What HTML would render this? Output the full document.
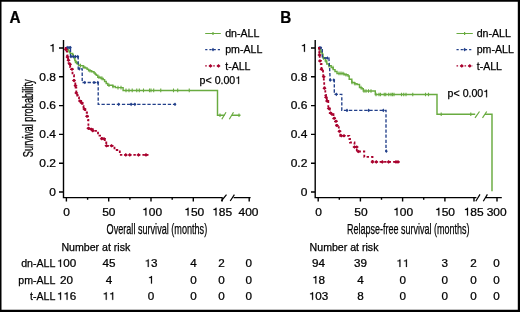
<!DOCTYPE html>
<html><head><meta charset="utf-8"><style>
html,body{margin:0;padding:0;background:#fff;}
body{width:520px;height:312px;overflow:hidden;}
svg{display:block;will-change:transform;font-family:"Liberation Sans", sans-serif;fill:#000;}
text{stroke:#000;stroke-width:0.25px;}
</style></head><body>
<svg width="520" height="312" viewBox="0 0 520 312">
<path d="M0 0 H520 V312 H0 Z M1.5 1.7 V309.8 H517.8 V1.7 Z" fill="#000" fill-rule="evenodd"/>
<text transform="translate(9.6 22.8) scale(0.98 1)" font-size="15.6" stroke-width="0.4" font-weight="bold">A</text>
<text transform="translate(280.2 22.8) scale(0.98 1)" font-size="15.6" stroke-width="0.4" font-weight="bold">B</text>
<path d="M63.5 40 V197.6 H222.6 M233.6 197.6 H250.6 M59 48.00 H63.5 M59 76.80 H63.5 M59 105.60 H63.5 M59 134.40 H63.5 M59 163.20 H63.5 M59 192.00 H63.5 M66.40 197.6 V201.6 M108.70 197.6 V201.6 M151.00 197.6 V201.6 M193.30 197.6 V201.6 M222.20 197.6 V201.6 M249.20 197.6 V201.6 M87.60 197.6 V199.8 M129.90 197.6 V199.8 M172.20 197.6 V199.8" stroke="#000" stroke-width="1.4" fill="none"/>
<path d="M221.3 201 L226.5 194.6 M230.2 201 L234.4 194.6" stroke="#000" stroke-width="1.2" fill="none"/>
<path d="M315.2 40 V197.6 H476.4 M485.8 197.6 H501.8 M311 48.00 H315.2 M311 76.80 H315.2 M311 105.60 H315.2 M311 134.40 H315.2 M311 163.20 H315.2 M311 192.00 H315.2 M318.20 197.6 V201.6 M360.40 197.6 V201.6 M402.60 197.6 V201.6 M444.90 197.6 V201.6 M474.00 197.6 V201.6 M497.00 197.6 V201.6 M339.30 197.6 V199.8 M381.50 197.6 V199.8 M423.70 197.6 V199.8" stroke="#000" stroke-width="1.4" fill="none"/>
<path d="M475.8 201.3 L480 194.4 M483.3 201.3 L487.4 194.4" stroke="#000" stroke-width="1.2" fill="none"/>
<g font-size="10.9"><path transform="translate(49.23 51.80) scale(11.990 -10.900)" d="M0.278 0 H0.358 V0.709 H0.296 Q0.270 0.600 0.105 0.585 V0.525 H0.278 Z" stroke="#000" stroke-width="0.25" vector-effect="non-scaling-stroke"/><path transform="translate(300.63 51.80) scale(11.990 -10.900)" d="M0.278 0 H0.358 V0.709 H0.296 Q0.270 0.600 0.105 0.585 V0.525 H0.278 Z" stroke="#000" stroke-width="0.25" vector-effect="non-scaling-stroke"/><text transform="translate(39.23 80.60) scale(1.100 1)" font-size="10.90">0</text><text transform="translate(45.90 80.60) scale(1.100 1)" font-size="10.90">.</text><text transform="translate(49.23 80.60) scale(1.100 1)" font-size="10.90">8</text><text transform="translate(290.63 80.60) scale(1.100 1)" font-size="10.90">0</text><text transform="translate(297.30 80.60) scale(1.100 1)" font-size="10.90">.</text><text transform="translate(300.63 80.60) scale(1.100 1)" font-size="10.90">8</text><text transform="translate(39.23 109.40) scale(1.100 1)" font-size="10.90">0</text><text transform="translate(45.90 109.40) scale(1.100 1)" font-size="10.90">.</text><text transform="translate(49.23 109.40) scale(1.100 1)" font-size="10.90">6</text><text transform="translate(290.63 109.40) scale(1.100 1)" font-size="10.90">0</text><text transform="translate(297.30 109.40) scale(1.100 1)" font-size="10.90">.</text><text transform="translate(300.63 109.40) scale(1.100 1)" font-size="10.90">6</text><text transform="translate(39.23 138.20) scale(1.100 1)" font-size="10.90">0</text><text transform="translate(45.90 138.20) scale(1.100 1)" font-size="10.90">.</text><text transform="translate(49.23 138.20) scale(1.100 1)" font-size="10.90">4</text><text transform="translate(290.63 138.20) scale(1.100 1)" font-size="10.90">0</text><text transform="translate(297.30 138.20) scale(1.100 1)" font-size="10.90">.</text><text transform="translate(300.63 138.20) scale(1.100 1)" font-size="10.90">4</text><text transform="translate(39.23 167.00) scale(1.100 1)" font-size="10.90">0</text><text transform="translate(45.90 167.00) scale(1.100 1)" font-size="10.90">.</text><text transform="translate(49.23 167.00) scale(1.100 1)" font-size="10.90">2</text><text transform="translate(290.63 167.00) scale(1.100 1)" font-size="10.90">0</text><text transform="translate(297.30 167.00) scale(1.100 1)" font-size="10.90">.</text><text transform="translate(300.63 167.00) scale(1.100 1)" font-size="10.90">2</text><text transform="translate(49.23 195.80) scale(1.100 1)" font-size="10.90">0</text><text transform="translate(300.63 195.80) scale(1.100 1)" font-size="10.90">0</text><text transform="translate(63.32 215.60) scale(1.100 1)" font-size="10.90">0</text><text transform="translate(102.13 215.60) scale(1.100 1)" font-size="10.90">5</text><text transform="translate(108.80 215.60) scale(1.100 1)" font-size="10.90">0</text><path transform="translate(142.10 215.60) scale(11.990 -10.900)" d="M0.278 0 H0.358 V0.709 H0.296 Q0.270 0.600 0.105 0.585 V0.525 H0.278 Z" stroke="#000" stroke-width="0.25" vector-effect="non-scaling-stroke"/><text transform="translate(148.77 215.60) scale(1.100 1)" font-size="10.90">0</text><text transform="translate(155.43 215.60) scale(1.100 1)" font-size="10.90">0</text><path transform="translate(184.25 215.60) scale(11.990 -10.900)" d="M0.278 0 H0.358 V0.709 H0.296 Q0.270 0.600 0.105 0.585 V0.525 H0.278 Z" stroke="#000" stroke-width="0.25" vector-effect="non-scaling-stroke"/><text transform="translate(190.92 215.60) scale(1.100 1)" font-size="10.90">5</text><text transform="translate(197.58 215.60) scale(1.100 1)" font-size="10.90">0</text><path transform="translate(212.20 215.60) scale(11.990 -10.900)" d="M0.278 0 H0.358 V0.709 H0.296 Q0.270 0.600 0.105 0.585 V0.525 H0.278 Z" stroke="#000" stroke-width="0.25" vector-effect="non-scaling-stroke"/><text transform="translate(218.87 215.60) scale(1.100 1)" font-size="10.90">8</text><text transform="translate(225.53 215.60) scale(1.100 1)" font-size="10.90">5</text><text transform="translate(238.50 215.60) scale(1.100 1)" font-size="10.90">4</text><text transform="translate(245.17 215.60) scale(1.100 1)" font-size="10.90">0</text><text transform="translate(251.83 215.60) scale(1.100 1)" font-size="10.90">0</text><text transform="translate(315.17 215.60) scale(1.100 1)" font-size="10.90">0</text><text transform="translate(354.33 215.60) scale(1.100 1)" font-size="10.90">5</text><text transform="translate(361.00 215.60) scale(1.100 1)" font-size="10.90">0</text><path transform="translate(393.20 215.60) scale(11.990 -10.900)" d="M0.278 0 H0.358 V0.709 H0.296 Q0.270 0.600 0.105 0.585 V0.525 H0.278 Z" stroke="#000" stroke-width="0.25" vector-effect="non-scaling-stroke"/><text transform="translate(399.87 215.60) scale(1.100 1)" font-size="10.90">0</text><text transform="translate(406.53 215.60) scale(1.100 1)" font-size="10.90">0</text><path transform="translate(435.00 215.60) scale(11.990 -10.900)" d="M0.278 0 H0.358 V0.709 H0.296 Q0.270 0.600 0.105 0.585 V0.525 H0.278 Z" stroke="#000" stroke-width="0.25" vector-effect="non-scaling-stroke"/><text transform="translate(441.67 215.60) scale(1.100 1)" font-size="10.90">5</text><text transform="translate(448.33 215.60) scale(1.100 1)" font-size="10.90">0</text><path transform="translate(463.70 215.60) scale(11.990 -10.900)" d="M0.278 0 H0.358 V0.709 H0.296 Q0.270 0.600 0.105 0.585 V0.525 H0.278 Z" stroke="#000" stroke-width="0.25" vector-effect="non-scaling-stroke"/><text transform="translate(470.37 215.60) scale(1.100 1)" font-size="10.90">8</text><text transform="translate(477.03 215.60) scale(1.100 1)" font-size="10.90">5</text><text transform="translate(486.65 215.60) scale(1.100 1)" font-size="10.90">3</text><text transform="translate(493.32 215.60) scale(1.100 1)" font-size="10.90">0</text><text transform="translate(499.98 215.60) scale(1.100 1)" font-size="10.90">0</text></g>
<text x="106.6" y="233.7" font-size="14.8" textLength="100.6" lengthAdjust="spacingAndGlyphs" stroke="#000" stroke-width="0.45">Overall survival (months)</text>
<text x="347.1" y="233.7" font-size="14.8" textLength="122.4" lengthAdjust="spacingAndGlyphs" stroke="#000" stroke-width="0.45">Relapse-free survival (months)</text>
<text transform="translate(33.4 157.2) rotate(-90)" x="0" y="0" font-size="14.6" textLength="77.8" lengthAdjust="spacingAndGlyphs" stroke="#000" stroke-width="0.45">Survival probability</text>
<text transform="translate(199.60 83.90) scale(1.000 1)" font-size="10.60">p</text><text transform="translate(205.49 83.90) scale(1.000 1)" font-size="10.60">&lt;</text><text transform="translate(214.63 83.90) scale(1.000 1)" font-size="10.60">0</text><text transform="translate(220.52 83.90) scale(1.000 1)" font-size="10.60">.</text><text transform="translate(223.47 83.90) scale(1.000 1)" font-size="10.60">0</text><text transform="translate(229.36 83.90) scale(1.000 1)" font-size="10.60">0</text><path transform="translate(235.26 83.90) scale(10.600 -10.600)" d="M0.278 0 H0.358 V0.709 H0.296 Q0.270 0.600 0.105 0.585 V0.525 H0.278 Z" stroke="#000" stroke-width="0.25" vector-effect="non-scaling-stroke"/>
<text transform="translate(447.60 97.30) scale(1.000 1)" font-size="10.60">p</text><text transform="translate(453.49 97.30) scale(1.000 1)" font-size="10.60">&lt;</text><text transform="translate(462.63 97.30) scale(1.000 1)" font-size="10.60">0</text><text transform="translate(468.52 97.30) scale(1.000 1)" font-size="10.60">.</text><text transform="translate(471.47 97.30) scale(1.000 1)" font-size="10.60">0</text><text transform="translate(477.36 97.30) scale(1.000 1)" font-size="10.60">0</text><path transform="translate(483.26 97.30) scale(10.600 -10.600)" d="M0.278 0 H0.358 V0.709 H0.296 Q0.270 0.600 0.105 0.585 V0.525 H0.278 Z" stroke="#000" stroke-width="0.25" vector-effect="non-scaling-stroke"/>
<path d="M205.2 33.5 H220.8 M213.0 32.0 v3" stroke="#69ab40" stroke-width="1.2" fill="none"/>
<path d="M205.2 49.6 H220.8" stroke="#213f8a" stroke-width="1.1" stroke-dasharray="2.2 2" fill="none"/>
<path d="M211.55 49.60 l1.45 -1.85 l1.45 1.85 l-1.45 1.85 Z " fill="#213f8a"/>
<path d="M205.2 65.9 H220.8" stroke="#a9022e" stroke-width="1.1" stroke-dasharray="1.6 2.4" fill="none"/>
<path d="M208.40 65.90 l2.10 -1.80 l2.10 1.80 l-2.10 1.80 Z M216.40 65.90 l2.10 -1.80 l2.10 1.80 l-2.10 1.80 Z " fill="#a9022e"/>
<g font-size="10.6"><text x="225.2" y="37.1">dn-ALL</text><text x="225.2" y="53.2">pm-ALL</text><text x="225.2" y="69.5">t-ALL</text></g>
<path d="M456.5 33.5 H472.8 M464.6 32.0 v3" stroke="#69ab40" stroke-width="1.2" fill="none"/>
<path d="M456.5 49.6 H472.8" stroke="#213f8a" stroke-width="1.1" stroke-dasharray="2.2 2" fill="none"/>
<path d="M463.20 49.60 l1.45 -1.85 l1.45 1.85 l-1.45 1.85 Z " fill="#213f8a"/>
<path d="M456.5 65.9 H472.8" stroke="#a9022e" stroke-width="1.1" stroke-dasharray="1.6 2.4" fill="none"/>
<path d="M459.70 65.90 l2.10 -1.80 l2.10 1.80 l-2.10 1.80 Z M467.70 65.90 l2.10 -1.80 l2.10 1.80 l-2.10 1.80 Z " fill="#a9022e"/>
<g font-size="10.6"><text x="476.7" y="37.1">dn-ALL</text><text x="476.7" y="53.2">pm-ALL</text><text x="476.7" y="69.5">t-ALL</text></g>
<path d="M66.40 48.00 H67.20 V49.60 H68.20 V50.50 H69.00 V51.70 H69.80 V52.50 H70.30 V53.50 H72.60 V54.40 H73.20 V55.80 H73.70 V57.10 H74.40 V58.60 H74.80 V60.50 H75.50 V62.50 H77.40 V63.50 H78.20 V64.50 H78.80 V65.60 H83.20 V67.30 H85.50 V67.90 H87.10 V69.20 H88.60 V70.70 H91.70 V71.80 H94.00 V73.00 H95.20 V74.20 H96.30 V75.30 H97.80 V77.20 H100.90 V78.40 H103.20 V79.60 H104.60 V81.50 H106.20 V83.40 H107.80 V85.20 H112.70 V86.50 H115.40 V87.60 H123.10 V90.40 H217.50 V115.30 H224.50 V115.30 M232.00 115.30 H240.50 V115.30" stroke="#69ab40" stroke-width="1.45" fill="none"/>
<path d="M76.50 60.70 V64.30 M80.50 63.80 V67.40 M84.00 65.50 V69.10 M90.00 68.90 V72.50 M99.00 75.40 V79.00 M102.00 76.60 V80.20 M109.00 83.40 V87.00 M113.00 84.70 V88.30 M118.00 85.80 V89.40 M121.00 85.80 V89.40 M126.00 88.60 V92.20 M129.00 88.60 V92.20 M132.20 88.60 V92.20 M136.75 88.60 V92.20 M139.30 88.60 V92.20 M143.50 88.60 V92.20 M149.50 88.60 V92.20 M151.00 88.60 V92.20 M153.70 88.60 V92.20 M160.75 88.60 V92.20 M173.50 88.60 V92.20 M177.70 88.60 V92.20 M189.25 88.60 V92.20 M220.00 113.50 V117.10 M239.00 113.50 V117.10 " stroke="#69ab40" stroke-width="1.10" fill="none"/>
<path d="M318.20 48.00 H319.20 V49.50 H320.80 V52.00 H322.30 V54.30 H323.00 V58.00 H325.30 V61.00 H326.80 V64.00 H328.70 V65.70 H331.20 V67.60 H333.20 V69.60 H335.00 V71.50 H337.00 V73.40 H342.80 V73.50 H344.10 V74.70 H348.00 V76.00 H349.20 V79.20 H351.80 V82.40 H354.40 V83.70 H357.00 V84.40 H359.50 V87.60 H362.00 V88.80 H363.30 V91.00 H374.90 V91.00 H375.30 V94.50 H437.00 V94.50 H437.00 V114.20 H475.20 V114.20 M485.00 114.20 H492.00 V114.20 H492.00 V191.30" stroke="#69ab40" stroke-width="1.45" fill="none"/>
<path d="M321.00 50.20 V53.80 M323.50 56.20 V59.80 M326.00 59.20 V62.80 M329.00 63.90 V67.50 M333.00 65.80 V69.40 M339.00 71.60 V75.20 M341.00 71.60 V75.20 M343.00 71.70 V75.30 M346.00 72.90 V76.50 M352.00 80.60 V84.20 M355.00 81.90 V85.50 M361.00 85.80 V89.40 M364.00 89.20 V92.80 M366.00 89.20 V92.80 M368.50 89.20 V92.80 M371.00 89.20 V92.80 M376.00 92.70 V96.30 M379.00 92.70 V96.30 M380.50 92.70 V96.30 M384.25 92.70 V96.30 M385.75 92.70 V96.30 M388.75 92.70 V96.30 M391.00 92.70 V96.30 M392.50 92.70 V96.30 M394.00 92.70 V96.30 M401.50 92.70 V96.30 M403.75 92.70 V96.30 M406.00 92.70 V96.30 M412.75 92.70 V96.30 M425.50 92.70 V96.30 M428.50 92.70 V96.30 M441.20 112.40 V116.00 M470.80 112.40 V116.00 " stroke="#69ab40" stroke-width="1.10" fill="none"/>
<path d="M221.8 119.3 L226 112.3 M229.3 119.3 L233.5 112.3" stroke="#69ab40" stroke-width="1.2" fill="none"/>
<path d="M475 117.8 L479.5 111.5 M482.5 117.8 L486.7 111.5" stroke="#69ab40" stroke-width="1.2" fill="none"/>
<path d="M66.40 47.60 L70.50 47.60 L70.50 56.60 L78.20 56.60 L78.20 68.80 L82.20 68.80 L82.20 82.50 L98.20 82.50 L98.20 104.30 L175.00 104.30" stroke="#213f8a" stroke-width="1.35" stroke-dasharray="3.3 1.8" fill="none"/>
<path d="M65.75 47.60 l1.45 -1.85 l1.45 1.85 l-1.45 1.85 Z M67.55 47.60 l1.45 -1.85 l1.45 1.85 l-1.45 1.85 Z M68.95 47.60 l1.45 -1.85 l1.45 1.85 l-1.45 1.85 Z M69.55 56.60 l1.45 -1.85 l1.45 1.85 l-1.45 1.85 Z M71.75 56.60 l1.45 -1.85 l1.45 1.85 l-1.45 1.85 Z M74.05 56.60 l1.45 -1.85 l1.45 1.85 l-1.45 1.85 Z M76.35 56.60 l1.45 -1.85 l1.45 1.85 l-1.45 1.85 Z M77.85 68.80 l1.45 -1.85 l1.45 1.85 l-1.45 1.85 Z M83.35 82.50 l1.45 -1.85 l1.45 1.85 l-1.45 1.85 Z M92.55 82.50 l1.45 -1.85 l1.45 1.85 l-1.45 1.85 Z M96.35 82.50 l1.45 -1.85 l1.45 1.85 l-1.45 1.85 Z M117.25 104.30 l1.45 -1.85 l1.45 1.85 l-1.45 1.85 Z M129.65 104.30 l1.45 -1.85 l1.45 1.85 l-1.45 1.85 Z M133.45 104.30 l1.45 -1.85 l1.45 1.85 l-1.45 1.85 Z M173.55 104.30 l1.45 -1.85 l1.45 1.85 l-1.45 1.85 Z " fill="#213f8a"/>
<path d="M318.50 47.80 L322.30 47.80 L322.30 58.00 L328.90 58.00 L329.60 68.00 L330.20 80.10 L334.30 80.10 L334.30 94.30 L341.80 94.30 L341.80 110.40 L386.00 110.40 L386.00 151.20" stroke="#213f8a" stroke-width="1.35" stroke-dasharray="3.3 1.8" fill="none"/>
<path d="M317.85 47.80 l1.45 -1.85 l1.45 1.85 l-1.45 1.85 Z M319.35 47.80 l1.45 -1.85 l1.45 1.85 l-1.45 1.85 Z M325.95 58.00 l1.45 -1.85 l1.45 1.85 l-1.45 1.85 Z M328.75 80.10 l1.45 -1.85 l1.45 1.85 l-1.45 1.85 Z M332.35 80.10 l1.45 -1.85 l1.45 1.85 l-1.45 1.85 Z M334.85 94.30 l1.45 -1.85 l1.45 1.85 l-1.45 1.85 Z M345.55 110.40 l1.45 -1.85 l1.45 1.85 l-1.45 1.85 Z M367.25 110.40 l1.45 -1.85 l1.45 1.85 l-1.45 1.85 Z M381.85 110.40 l1.45 -1.85 l1.45 1.85 l-1.45 1.85 Z M384.85 151.20 l1.45 -1.85 l1.45 1.85 l-1.45 1.85 Z " fill="#213f8a"/>
<path d="M64.80 48.00 H65.50 V49.40 H66.70 V51.30 H67.10 V55.30 H67.50 V57.10 H68.20 V60.20 H68.60 V63.20 H69.40 V64.20 H70.20 V67.10 H71.00 V69.20 H72.50 V75.20 H74.00 V80.50 H75.30 V85.70 H75.60 V87.60 H76.30 V93.00 H77.20 V95.50 H78.00 V97.50 H79.00 V99.50 H79.90 V101.00 H81.20 V102.90 H82.50 V106.00 H83.50 V109.10 H85.30 V112.50 H87.00 V116.30 H88.00 V120.00 H88.40 V128.30 H89.20 V129.20 H92.80 V130.80 H98.00 V131.30 H98.00 V135.70 H101.80 V138.80 H104.80 V142.50 H106.30 V145.80 H113.80 V145.80 H114.50 V150.00 H119.80 V150.00 H119.80 V154.90 H148.50 V154.90" stroke="#a9022e" stroke-width="1.80" stroke-dasharray="2.4 2.1" fill="none"/>
<path d="M63.90 49.40 l2.10 -1.80 l2.10 1.80 l-2.10 1.80 Z M65.40 57.10 l2.10 -1.80 l2.10 1.80 l-2.10 1.80 Z M66.40 60.20 l2.10 -1.80 l2.10 1.80 l-2.10 1.80 Z M67.90 64.20 l2.10 -1.80 l2.10 1.80 l-2.10 1.80 Z M69.90 69.20 l2.10 -1.80 l2.10 1.80 l-2.10 1.80 Z M71.90 80.50 l2.10 -1.80 l2.10 1.80 l-2.10 1.80 Z M73.40 85.70 l2.10 -1.80 l2.10 1.80 l-2.10 1.80 Z M74.20 93.00 l2.10 -1.80 l2.10 1.80 l-2.10 1.80 Z M77.80 101.00 l2.10 -1.80 l2.10 1.80 l-2.10 1.80 Z M79.60 102.90 l2.10 -1.80 l2.10 1.80 l-2.10 1.80 Z M82.30 109.10 l2.10 -1.80 l2.10 1.80 l-2.10 1.80 Z M84.90 116.30 l2.10 -1.80 l2.10 1.80 l-2.10 1.80 Z M86.30 128.30 l2.10 -1.80 l2.10 1.80 l-2.10 1.80 Z M89.10 129.20 l2.10 -1.80 l2.10 1.80 l-2.10 1.80 Z M90.70 130.80 l2.10 -1.80 l2.10 1.80 l-2.10 1.80 Z M99.70 138.80 l2.10 -1.80 l2.10 1.80 l-2.10 1.80 Z M101.90 138.80 l2.10 -1.80 l2.10 1.80 l-2.10 1.80 Z M104.40 145.80 l2.10 -1.80 l2.10 1.80 l-2.10 1.80 Z M109.40 145.80 l2.10 -1.80 l2.10 1.80 l-2.10 1.80 Z M123.70 154.90 l2.10 -1.80 l2.10 1.80 l-2.10 1.80 Z M127.70 154.90 l2.10 -1.80 l2.10 1.80 l-2.10 1.80 Z M136.40 154.90 l2.10 -1.80 l2.10 1.80 l-2.10 1.80 Z M143.90 154.90 l2.10 -1.80 l2.10 1.80 l-2.10 1.80 Z " fill="#a9022e"/>
<path d="M318.00 48.00 H319.20 V48.50 H319.30 V55.00 H319.70 V61.00 H320.80 V64.00 H321.50 V69.20 H323.00 V73.00 H323.30 V76.80 H323.80 V81.20 H324.20 V85.00 H324.50 V88.30 H325.30 V95.00 H326.00 V97.30 H326.80 V101.00 H328.30 V108.50 H329.80 V113.00 H332.00 V114.20 H333.50 V118.30 H335.00 V121.30 H336.50 V125.50 H338.80 V131.30 H340.30 V135.80 H347.80 V135.80 H349.30 V138.80 H350.00 V142.50 H353.30 V142.50 H354.50 V147.00 H356.80 V151.50 H364.30 V151.50 H364.30 V156.90 H372.50 V156.90 H372.50 V161.90 H399.30 V161.90" stroke="#a9022e" stroke-width="1.80" stroke-dasharray="2.4 2.1" fill="none"/>
<path d="M317.40 55.00 l2.10 -1.80 l2.10 1.80 l-2.10 1.80 Z M317.90 61.00 l2.10 -1.80 l2.10 1.80 l-2.10 1.80 Z M319.40 69.20 l2.10 -1.80 l2.10 1.80 l-2.10 1.80 Z M321.65 76.80 l2.10 -1.80 l2.10 1.80 l-2.10 1.80 Z M322.40 88.30 l2.10 -1.80 l2.10 1.80 l-2.10 1.80 Z M323.90 97.30 l2.10 -1.80 l2.10 1.80 l-2.10 1.80 Z M324.90 101.00 l2.10 -1.80 l2.10 1.80 l-2.10 1.80 Z M326.70 108.50 l2.10 -1.80 l2.10 1.80 l-2.10 1.80 Z M328.50 113.00 l2.10 -1.80 l2.10 1.80 l-2.10 1.80 Z M329.90 114.20 l2.10 -1.80 l2.10 1.80 l-2.10 1.80 Z M332.10 118.30 l2.10 -1.80 l2.10 1.80 l-2.10 1.80 Z M333.90 121.30 l2.10 -1.80 l2.10 1.80 l-2.10 1.80 Z M334.90 125.50 l2.10 -1.80 l2.10 1.80 l-2.10 1.80 Z M337.40 131.30 l2.10 -1.80 l2.10 1.80 l-2.10 1.80 Z M339.20 135.80 l2.10 -1.80 l2.10 1.80 l-2.10 1.80 Z M341.90 135.80 l2.10 -1.80 l2.10 1.80 l-2.10 1.80 Z M352.40 147.00 l2.10 -1.80 l2.10 1.80 l-2.10 1.80 Z M354.65 147.00 l2.10 -1.80 l2.10 1.80 l-2.10 1.80 Z M356.15 151.50 l2.10 -1.80 l2.10 1.80 l-2.10 1.80 Z M370.40 161.90 l2.10 -1.80 l2.10 1.80 l-2.10 1.80 Z M374.20 161.90 l2.10 -1.80 l2.10 1.80 l-2.10 1.80 Z M380.20 161.90 l2.10 -1.80 l2.10 1.80 l-2.10 1.80 Z M386.50 161.90 l2.10 -1.80 l2.10 1.80 l-2.10 1.80 Z M393.90 161.90 l2.10 -1.80 l2.10 1.80 l-2.10 1.80 Z M395.90 161.90 l2.10 -1.80 l2.10 1.80 l-2.10 1.80 Z " fill="#a9022e"/>
<path d="M319.3 48.2 V56.2" stroke="#a9022e" stroke-width="1.1" fill="none" opacity="0.8"/>
<g font-size="10.6"><text x="61.4" y="250.6">Number at risk</text><text x="309.6" y="250.6">Number at risk</text><text x="55.4" y="266.9" text-anchor="end">dn-ALL</text><text x="55.4" y="283.6" text-anchor="end">pm-ALL</text><text x="55.4" y="299.8" text-anchor="end">t-ALL</text><path transform="translate(56.88 266.90) scale(11.660 -10.600)" d="M0.278 0 H0.358 V0.709 H0.296 Q0.270 0.600 0.105 0.585 V0.525 H0.278 Z" stroke="#000" stroke-width="0.25" vector-effect="non-scaling-stroke"/><text transform="translate(63.36 266.90) scale(1.100 1)" font-size="10.60">0</text><text transform="translate(69.84 266.90) scale(1.100 1)" font-size="10.60">0</text><text transform="translate(102.52 266.90) scale(1.100 1)" font-size="10.60">4</text><text transform="translate(109.00 266.90) scale(1.100 1)" font-size="10.60">5</text><path transform="translate(144.52 266.90) scale(11.660 -10.600)" d="M0.278 0 H0.358 V0.709 H0.296 Q0.270 0.600 0.105 0.585 V0.525 H0.278 Z" stroke="#000" stroke-width="0.25" vector-effect="non-scaling-stroke"/><text transform="translate(151.00 266.90) scale(1.100 1)" font-size="10.60">3</text><text transform="translate(190.36 266.90) scale(1.100 1)" font-size="10.60">4</text><text transform="translate(218.36 266.90) scale(1.100 1)" font-size="10.60">2</text><text transform="translate(245.46 266.90) scale(1.100 1)" font-size="10.60">0</text><text transform="translate(60.12 283.60) scale(1.100 1)" font-size="10.60">2</text><text transform="translate(66.60 283.60) scale(1.100 1)" font-size="10.60">0</text><text transform="translate(105.76 283.60) scale(1.100 1)" font-size="10.60">4</text><path transform="translate(147.76 283.60) scale(11.660 -10.600)" d="M0.278 0 H0.358 V0.709 H0.296 Q0.270 0.600 0.105 0.585 V0.525 H0.278 Z" stroke="#000" stroke-width="0.25" vector-effect="non-scaling-stroke"/><text transform="translate(190.36 283.60) scale(1.100 1)" font-size="10.60">0</text><text transform="translate(218.36 283.60) scale(1.100 1)" font-size="10.60">0</text><text transform="translate(245.46 283.60) scale(1.100 1)" font-size="10.60">0</text><path transform="translate(56.88 299.80) scale(11.660 -10.600)" d="M0.278 0 H0.358 V0.709 H0.296 Q0.270 0.600 0.105 0.585 V0.525 H0.278 Z" stroke="#000" stroke-width="0.25" vector-effect="non-scaling-stroke"/><path transform="translate(63.36 299.80) scale(11.660 -10.600)" d="M0.278 0 H0.358 V0.709 H0.296 Q0.270 0.600 0.105 0.585 V0.525 H0.278 Z" stroke="#000" stroke-width="0.25" vector-effect="non-scaling-stroke"/><text transform="translate(69.84 299.80) scale(1.100 1)" font-size="10.60">6</text><path transform="translate(102.52 299.80) scale(11.660 -10.600)" d="M0.278 0 H0.358 V0.709 H0.296 Q0.270 0.600 0.105 0.585 V0.525 H0.278 Z" stroke="#000" stroke-width="0.25" vector-effect="non-scaling-stroke"/><path transform="translate(109.00 299.80) scale(11.660 -10.600)" d="M0.278 0 H0.358 V0.709 H0.296 Q0.270 0.600 0.105 0.585 V0.525 H0.278 Z" stroke="#000" stroke-width="0.25" vector-effect="non-scaling-stroke"/><text transform="translate(147.76 299.80) scale(1.100 1)" font-size="10.60">0</text><text transform="translate(190.36 299.80) scale(1.100 1)" font-size="10.60">0</text><text transform="translate(218.36 299.80) scale(1.100 1)" font-size="10.60">0</text><text transform="translate(245.46 299.80) scale(1.100 1)" font-size="10.60">0</text><text transform="translate(312.12 266.90) scale(1.100 1)" font-size="10.60">9</text><text transform="translate(318.60 266.90) scale(1.100 1)" font-size="10.60">4</text><text transform="translate(354.12 266.90) scale(1.100 1)" font-size="10.60">3</text><text transform="translate(360.60 266.90) scale(1.100 1)" font-size="10.60">9</text><path transform="translate(396.22 266.90) scale(11.660 -10.600)" d="M0.278 0 H0.358 V0.709 H0.296 Q0.270 0.600 0.105 0.585 V0.525 H0.278 Z" stroke="#000" stroke-width="0.25" vector-effect="non-scaling-stroke"/><path transform="translate(402.70 266.90) scale(11.660 -10.600)" d="M0.278 0 H0.358 V0.709 H0.296 Q0.270 0.600 0.105 0.585 V0.525 H0.278 Z" stroke="#000" stroke-width="0.25" vector-effect="non-scaling-stroke"/><text transform="translate(441.46 266.90) scale(1.100 1)" font-size="10.60">3</text><text transform="translate(470.26 266.90) scale(1.100 1)" font-size="10.60">2</text><text transform="translate(493.36 266.90) scale(1.100 1)" font-size="10.60">0</text><path transform="translate(312.12 283.60) scale(11.660 -10.600)" d="M0.278 0 H0.358 V0.709 H0.296 Q0.270 0.600 0.105 0.585 V0.525 H0.278 Z" stroke="#000" stroke-width="0.25" vector-effect="non-scaling-stroke"/><text transform="translate(318.60 283.60) scale(1.100 1)" font-size="10.60">8</text><text transform="translate(357.36 283.60) scale(1.100 1)" font-size="10.60">4</text><text transform="translate(399.46 283.60) scale(1.100 1)" font-size="10.60">0</text><text transform="translate(441.46 283.60) scale(1.100 1)" font-size="10.60">0</text><text transform="translate(470.26 283.60) scale(1.100 1)" font-size="10.60">0</text><text transform="translate(493.36 283.60) scale(1.100 1)" font-size="10.60">0</text><path transform="translate(308.88 299.80) scale(11.660 -10.600)" d="M0.278 0 H0.358 V0.709 H0.296 Q0.270 0.600 0.105 0.585 V0.525 H0.278 Z" stroke="#000" stroke-width="0.25" vector-effect="non-scaling-stroke"/><text transform="translate(315.36 299.80) scale(1.100 1)" font-size="10.60">0</text><text transform="translate(321.84 299.80) scale(1.100 1)" font-size="10.60">3</text><text transform="translate(357.36 299.80) scale(1.100 1)" font-size="10.60">8</text><text transform="translate(399.46 299.80) scale(1.100 1)" font-size="10.60">0</text><text transform="translate(441.46 299.80) scale(1.100 1)" font-size="10.60">0</text><text transform="translate(470.26 299.80) scale(1.100 1)" font-size="10.60">0</text><text transform="translate(493.36 299.80) scale(1.100 1)" font-size="10.60">0</text></g>
</svg>
</body></html>
